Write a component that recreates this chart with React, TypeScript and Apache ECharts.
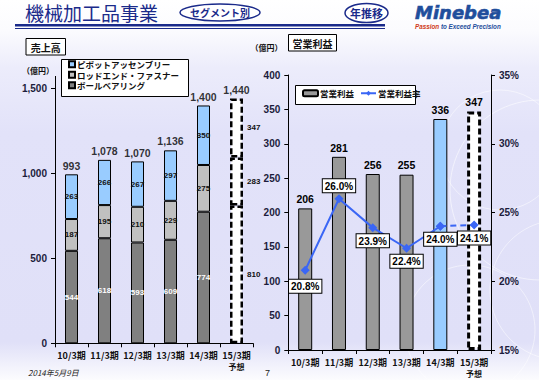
import React, { useEffect, useRef } from 'react';
import * as echarts from 'echarts';

const categories = ['10/3期', '11/3期', '12/3期', '13/3期', '14/3期', '15/3期\n予想'];
const ballBearing = [544, 618, 593, 609, 774, 810];
const rodEnd = [187, 195, 210, 229, 275, 283];
const pivot = [263, 266, 267, 297, 350, 347];
const salesTotal = [993, 1078, 1070, 1136, 1400, 1440];
const salesTicks = [0, 500, 1000, 1500];
const opIncome = [206, 281, 256, 255, 336, 347];
const opMargin = [20.8, 26.0, 23.9, 22.4, 24.0, 24.1];
const FORECAST = 5;
const ACTUAL_LAST = 4;

const NUM = "'Liberation Sans', Arial, 'Noto Sans CJK JP', sans-serif";
const JP = "'Noto Sans CJK JP', 'Noto Sans', sans-serif";
const NAVY = '#1a2a8a';
const AXIS_TXT = '#1c1c3c';

const forecastStyle = { color: '#ffffff', borderColor: '#000', borderWidth: 2.5, borderType: [6, 3] };

function stackData(values: number[]) {
  return values.map((v, i) =>
    i === FORECAST
      ? { value: v, itemStyle: forecastStyle, label: { position: 'right', color: '#111', distance: 4 } }
      : v
  );
}

const catLabel = {
  fontSize: 9,
  fontWeight: 'bold',
  color: '#111',
  fontFamily: JP,
  margin: 7,
  interval: 0,
  lineHeight: 11,
  formatter: (v: string) => {
    const p = v.split('\n');
    return p.length > 1 ? p[0] + '\n{s|' + p[1] + '}' : v;
  },
  rich: { s: { fontSize: 8, fontWeight: 'bold', color: '#111', fontFamily: JP } },
};

const pctLabel = {
  position: 'bottom',
  distance: 2,
  fontSize: 10,
  fontWeight: 'bold',
  color: '#000',
  fontFamily: NUM,
  backgroundColor: '#fff',
  borderColor: '#000',
  borderWidth: 1,
  padding: [2, 2, 1, 2],
  formatter: (p: any) => Number(p.value).toFixed(1) + '%',
};

export default function App() {
  const ref = useRef<HTMLDivElement>(null);
  useEffect(() => {
    if (!ref.current) return;
    const chart = echarts.init(ref.current, undefined, { renderer: 'svg' });
    const segLabel = (color: string) => ({
      show: true,
      position: 'inside',
      color,
      fontSize: 8,
      fontWeight: 'bold',
      fontFamily: NUM,
      textBorderWidth: 0,
    });
    const option: any = {
      animation: false,
      backgroundColor: 'transparent',
      grid: [
        { left: 55, top: 76.4, width: 198, height: 266.9 },
        { left: 288.3, top: 75, width: 202.7, height: 275 },
      ],
      legend: [
        {
          data: ['ピボットアッセンブリー', 'ロッドエンド・ファスナー', 'ボールベアリング'],
          orient: 'vertical',
          left: 68,
          top: 60,
          padding: 0,
          itemGap: 2,
          itemWidth: 6,
          itemHeight: 6,
          icon: 'rect',
          selectedMode: false,
          textStyle: { fontSize: 8.5, fontWeight: 'bold', color: '#111', fontFamily: JP, padding: [0, 0, 0, -3] },
        },
        {
          data: ['営業利益', '営業利益率'],
          orient: 'horizontal',
          left: 302,
          top: 89,
          padding: 0,
          itemGap: 6,
          itemWidth: 15,
          itemHeight: 6,
          selectedMode: false,
          textStyle: { fontSize: 8.5, fontWeight: 'bold', color: '#111', fontFamily: JP, padding: [0, 0, 0, -3] },
        },
      ],
      xAxis: [
        {
          type: 'category',
          gridIndex: 0,
          data: categories,
          axisLine: { lineStyle: { color: '#000', width: 1 } },
          axisTick: { show: true, length: 4, lineStyle: { color: '#000' } },
          axisLabel: catLabel,
        },
        {
          type: 'category',
          gridIndex: 1,
          data: categories,
          axisLine: { lineStyle: { color: '#000', width: 1 } },
          axisTick: { show: true, length: 4, lineStyle: { color: '#000' } },
          axisLabel: catLabel,
        },
      ],
      yAxis: [
        {
          type: 'value',
          gridIndex: 0,
          min: 0,
          max: 1570,
          axisLine: { show: true, lineStyle: { color: '#000' } },
          axisTick: { show: true, length: 4, customValues: salesTicks, lineStyle: { color: '#000' } },
          splitLine: { show: false },
          axisLabel: {
            customValues: salesTicks,
            fontSize: 10,
            fontWeight: 'bold',
            color: AXIS_TXT,
            fontFamily: NUM,
            margin: 8,
            formatter: (v: number) => v.toLocaleString('en-US'),
          },
        },
        {
          type: 'value',
          gridIndex: 1,
          position: 'left',
          min: 0,
          max: 400,
          interval: 50,
          axisLine: { show: true, lineStyle: { color: '#000' } },
          axisTick: { show: true, length: 4, lineStyle: { color: '#000' } },
          splitLine: { show: false },
          axisLabel: { fontSize: 10, fontWeight: 'bold', color: AXIS_TXT, fontFamily: NUM, margin: 8 },
        },
        {
          type: 'value',
          gridIndex: 1,
          position: 'right',
          min: 15,
          max: 35,
          interval: 5,
          axisLine: { show: true, lineStyle: { color: '#000' } },
          axisTick: { show: true, length: 4, lineStyle: { color: '#000' } },
          splitLine: { show: false },
          axisLabel: { fontSize: 10, fontWeight: 'bold', color: AXIS_TXT, fontFamily: NUM, margin: 8, formatter: '{value}%' },
        },
      ],
      series: [
        {
          type: 'bar',
          name: 'ボールベアリング',
          stack: 'sales',
          xAxisIndex: 0,
          yAxisIndex: 0,
          barWidth: 13,
          data: stackData(ballBearing),
          itemStyle: { color: '#808080', borderColor: '#000', borderWidth: 1 },
          label: segLabel('#ffffff'),
        },
        {
          type: 'bar',
          name: 'ロッドエンド・ファスナー',
          stack: 'sales',
          xAxisIndex: 0,
          yAxisIndex: 0,
          barWidth: 13,
          data: stackData(rodEnd),
          itemStyle: { color: '#c0c0c0', borderColor: '#000', borderWidth: 1 },
          label: segLabel('#111111'),
        },
        {
          type: 'bar',
          name: 'ピボットアッセンブリー',
          stack: 'sales',
          xAxisIndex: 0,
          yAxisIndex: 0,
          barWidth: 13,
          data: stackData(pivot),
          itemStyle: { color: '#99ccff', borderColor: '#000', borderWidth: 1 },
          label: segLabel('#111111'),
        },
        {
          type: 'scatter',
          name: 'total',
          xAxisIndex: 0,
          yAxisIndex: 0,
          symbolSize: 1,
          itemStyle: { color: 'rgba(0,0,0,0)' },
          data: salesTotal,
          label: {
            show: true,
            position: 'top',
            distance: 3,
            fontSize: 10.5,
            fontWeight: 'bold',
            color: '#000',
            fontFamily: NUM,
            formatter: (p: any) => Number(p.value).toLocaleString('en-US'),
          },
        },
        {
          type: 'bar',
          name: '営業利益',
          xAxisIndex: 1,
          yAxisIndex: 1,
          barWidth: 14,
          itemStyle: { color: '#999999', borderColor: '#000', borderWidth: 1 },
          data: opIncome.map((v, i) =>
            i === FORECAST
              ? { value: v, itemStyle: { ...forecastStyle, borderWidth: 3 } }
              : i === ACTUAL_LAST
              ? { value: v, itemStyle: { color: '#99ccff' } }
              : v
          ),
          label: { show: true, position: 'top', distance: 4, fontSize: 10.5, fontWeight: 'bold', color: '#000', fontFamily: NUM },
        },
        {
          type: 'line',
          name: '営業利益率',
          xAxisIndex: 1,
          yAxisIndex: 2,
          z: 5,
          symbol: 'diamond',
          symbolSize: 9,
          itemStyle: { color: '#3a66f5' },
          lineStyle: { color: '#3a66f5', width: 2 },
          data: opMargin.map((v, i) => {
            if (i > ACTUAL_LAST) return '-';
            if (i === 1) return { value: v, label: { position: 'top', distance: 2 } };
            if (i === 0) return { value: v, label: { distance: 5 } };
            return v;
          }),
          label: { show: true, ...pctLabel },
        },
        {
          type: 'line',
          name: '営業利益率',
          xAxisIndex: 1,
          yAxisIndex: 2,
          z: 4,
          symbol: 'diamond',
          symbolSize: 9,
          itemStyle: { color: '#3a66f5' },
          lineStyle: { color: '#3a66f5', width: 2, type: [6, 4] },
          data: opMargin.map((v, i) =>
            i < ACTUAL_LAST ? '-' : i === FORECAST ? { value: v, label: { show: true } } : v
          ),
          label: { show: false, ...pctLabel },
        },
      ],
      graphic: [
        // decorative arcs
        { type: 'circle', z: -10, silent: true, shape: { cx: 540, cy: 190, r: 90 }, style: { fill: 'none', stroke: 'rgba(255,255,255,0.55)', lineWidth: 1 } },
        { type: 'circle', z: -10, silent: true, shape: { cx: 500, cy: 150, r: 60 }, style: { fill: 'none', stroke: 'rgba(255,255,255,0.5)', lineWidth: 1 } },
        { type: 'circle', z: -10, silent: true, shape: { cx: 470, cy: 330, r: 65 }, style: { fill: 'none', stroke: 'rgba(255,255,255,0.5)', lineWidth: 1 } },
        { type: 'circle', z: -10, silent: true, shape: { cx: 560, cy: 290, r: 70 }, style: { fill: 'none', stroke: 'rgba(255,255,255,0.5)', lineWidth: 1 } },
        // title
        { type: 'text', left: 25, top: 3, style: { text: '機械加工品事業', fontSize: 19, fill: NAVY, fontFamily: JP } },
        { type: 'rect', shape: { x: 15, y: 24, width: 370, height: 2.5 }, style: { fill: NAVY } },
        { type: 'rect', shape: { x: 15, y: 28, width: 370, height: 1 }, style: { fill: NAVY } },
        { type: 'ellipse', shape: { cx: 220, cy: 12.5, rx: 40, ry: 8.5 }, style: { fill: '#fff', stroke: NAVY, lineWidth: 1.5 } },
        { type: 'text', x: 220, y: 12.5, style: { text: 'セグメント別', fontSize: 10, fontWeight: 'bold', fill: NAVY, fontFamily: JP, align: 'center', verticalAlign: 'middle' } },
        { type: 'ellipse', shape: { cx: 366.5, cy: 13, rx: 21.5, ry: 9.5 }, style: { fill: '#fff', stroke: NAVY, lineWidth: 1.5 } },
        { type: 'text', x: 366.5, y: 13, style: { text: '年推移', fontSize: 11, fontWeight: 'bold', fill: NAVY, fontFamily: JP, align: 'center', verticalAlign: 'middle' } },
        // logo
        { type: 'text', x: 415, y: 3, style: { text: 'Minebea', fontSize: 18, fontWeight: 900, fontStyle: 'italic', fill: '#1f4e9c', fontFamily: "'DejaVu Sans', " + NUM, stroke: '#1f4e9c', lineWidth: 0.6 } },
        {
          type: 'text',
          x: 415,
          y: 23,
          style: {
            text: '{r|Passion} to Exceed Precision',
            fontSize: 6.3,
            fontWeight: 'bold',
            fontStyle: 'italic',
            fill: '#1f4e9c',
            fontFamily: NUM,
            rich: { r: { fontSize: 6.3, fontWeight: 'bold', fontStyle: 'italic', fill: '#d03a20', fontFamily: NUM } },
          },
        },
        // section boxes
        { type: 'rect', shape: { x: 26, y: 38.5, width: 39.5, height: 16.5 }, style: { fill: '#fff', stroke: '#000', lineWidth: 1 } },
        { type: 'text', x: 45.75, y: 47, style: { text: '売上高', fontSize: 10, fontWeight: 'bold', fill: '#111', fontFamily: JP, align: 'center', verticalAlign: 'middle' } },
        { type: 'rect', shape: { x: 288.5, y: 34.5, width: 48, height: 16.5 }, style: { fill: '#fff', stroke: '#000', lineWidth: 1 } },
        { type: 'text', x: 312.5, y: 43, style: { text: '営業利益', fontSize: 10, fontWeight: 'bold', fill: '#111', fontFamily: JP, align: 'center', verticalAlign: 'middle' } },
        { type: 'text', x: 38, y: 70, style: { text: '（億円）', fontSize: 8, fontWeight: 'bold', fill: '#111', fontFamily: JP, align: 'center', verticalAlign: 'middle' } },
        { type: 'text', x: 266.5, y: 47.5, style: { text: '（億円）', fontSize: 8, fontWeight: 'bold', fill: '#111', fontFamily: JP, align: 'center', verticalAlign: 'middle' } },
        // legend boxes
        { type: 'rect', z: -1, shape: { x: 61.5, y: 59.5, width: 127, height: 37 }, style: { fill: '#fff', stroke: '#000', lineWidth: 1 } },
        { type: 'rect', z: -1, shape: { x: 295.5, y: 85.5, width: 120, height: 19 }, style: { fill: '#fff', stroke: '#000', lineWidth: 1 } },
        // footer
        { type: 'text', x: 28, y: 372, style: { text: '2014年5月9日', fontSize: 8, fontStyle: 'italic', fill: '#222', fontFamily: JP, verticalAlign: 'middle' } },
        { type: 'text', x: 265, y: 373, style: { text: '7', fontSize: 9, fill: '#222', fontFamily: NUM, verticalAlign: 'middle' } },
      ],
    };
    chart.setOption(option);
    return () => chart.dispose();
  }, []);
  return (
    <div
      style={{
        position: 'fixed',
        left: 0,
        top: 0,
        width: 539,
        height: 380,
        background:
          'linear-gradient(180deg, #ffffff 0%, #fbfbfe 8%, #ececfb 18%, #e2e2f9 35%, #e0e0f8 90%, #eeeefb 95%, #fcfcfe 100%)',
      }}
    >
      <div ref={ref} style={{ width: 539, height: 380 }} />
    </div>
  );
}
